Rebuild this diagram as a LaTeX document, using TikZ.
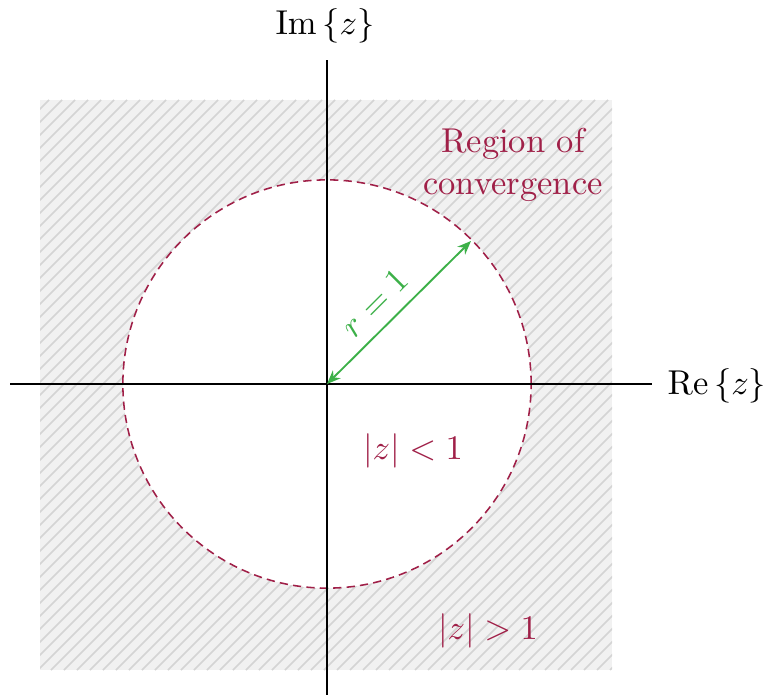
\documentclass[tikz,border=0pt]{standalone}
\usetikzlibrary{arrows.meta}
\definecolor{roc}{RGB}{160,32,72}
\definecolor{rgreen}{RGB}{60,176,72}
\definecolor{shadegray}{RGB}{241,241,241}
\definecolor{hatchgray}{RGB}{212,212,212}
\begin{document}
\begin{tikzpicture}[x=0.29pt,y=-0.29pt,
  axis/.style={line width=0.75pt,black},
  roccircle/.style={draw=roc,line width=0.45pt,dash pattern=on 2.4pt off 1.5pt},
  radiusarrow/.style={draw=rgreen,line width=0.55pt,{Stealth[length=4pt,width=3.2pt]}-{Stealth[length=4pt,width=3.2pt]}},
  roctext/.style={text=roc,align=center,inner sep=0pt}]
\useasboundingbox (0,0) rectangle (769,695);
% shaded region
\fill[shadegray] (40,100) rectangle (612,670);
\begin{scope}
  \clip (40,100) rectangle (612,670);
  \foreach \s in {-560,-547,...,620} {
    \draw[hatchgray,line width=0.45pt] (\s,670) -- (\s+570,100);
  }
\end{scope}
\coordinate (O) at (327,384);
\fill[white] (O) circle [radius=59.2pt];
\draw[roccircle] (O) circle [radius=59.2pt];
% axes
\coordinate (xl) at (10,384);
\coordinate (xr) at (652,384);
\coordinate (yt) at (327,60);
\coordinate (yb) at (327,695);
\draw[axis] (xl) -- (xr);
\draw[axis] (yb) -- (yt);
\node[anchor=west,inner sep=0pt] (re) at (667,386) {$\mathrm{Re}\left\{z\right\}$};
\node[inner sep=0pt] (im) at (325,26) {$\mathrm{Im}\left\{z\right\}$};
% radius arrow
\coordinate (P) at (471,241);
\draw[radiusarrow] (O) -- (P);
\node[text=rgreen,rotate=45,inner sep=0pt] (rl) at (375,303) {$r=1$};
% labels
\node[roctext] (roclab) at (513,165) {Region of\\convergence};
\node[roctext] (inside) at (413,451) {$|z|<1$};
\node[roctext] (outside) at (488,631) {$|z|>1$};
\end{tikzpicture}
\end{document}
